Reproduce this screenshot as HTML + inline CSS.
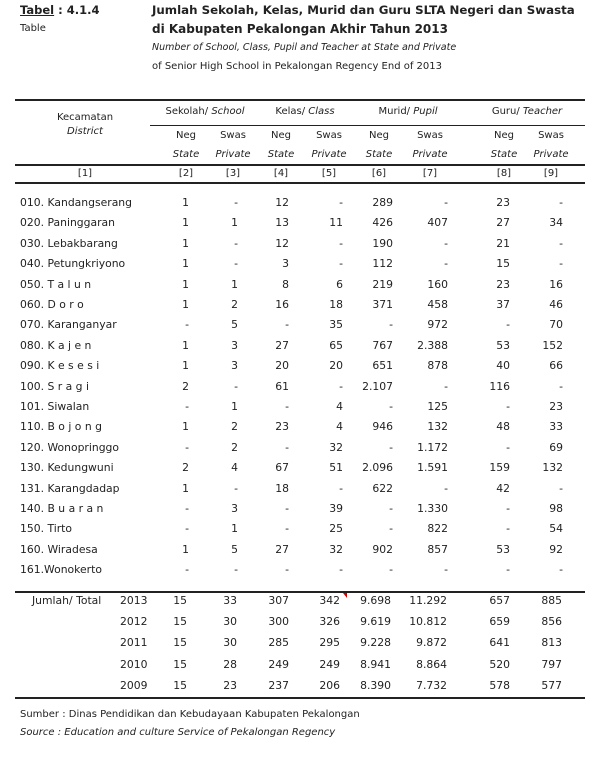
<!DOCTYPE html>
<html><head><meta charset="utf-8"><style>
body{margin:0;background:#fff;}
#p{position:relative;width:600px;height:760px;overflow:hidden;background:#fff;font-family:"DejaVu Sans","Liberation Sans",sans-serif;font-size:10px;color:#222;}
.t{position:absolute;white-space:nowrap;line-height:12px;}
.r{position:absolute;white-space:nowrap;line-height:12px;transform:translateX(-100%);}
.c{position:absolute;white-space:nowrap;line-height:12px;transform:translateX(-50%);}
.i{font-style:italic;}
.b{font-weight:bold;}
.h{position:absolute;background:#222;}
.lab{font-size:10.8px;}
</style></head><body><div id="p">
<div class="t b" style="left:20px;top:4px;font-size:11.5px"><u>Tabel</u> : 4.1.4</div>
<div class="t" style="left:20px;top:23px">Table</div>
<div class="t b" style="left:152px;top:4px;font-size:11.8px">Jumlah Sekolah, Kelas, Murid dan Guru SLTA Negeri dan Swasta</div>
<div class="t b" style="left:152px;top:23px;font-size:12px">di Kabupaten Pekalongan Akhir Tahun 2013</div>
<div class="t i" style="left:152px;top:42px;font-size:9.5px">Number of School, Class, Pupil and Teacher at State and Private</div>
<div class="t" style="left:152px;top:61px">of Senior High School in Pekalongan Regency End of 2013</div>

<div class="h" style="left:15px;top:99px;width:570px;height:2px"></div>
<div class="c" style="left:85px;top:112px">Kecamatan</div>
<div class="c i" style="left:85px;top:126px">District</div>
<div class="c" style="left:205px;top:106px">Sekolah/ <i>School</i></div>
<div class="c" style="left:305px;top:106px">Kelas/ <i>Class</i></div>
<div class="c" style="left:408px;top:106px">Murid/ <i>Pupil</i></div>
<div class="c" style="left:527px;top:106px">Guru/ <i>Teacher</i></div>
<div class="h" style="left:150px;top:125px;width:435px;height:1px"></div>
<div class="h" style="left:15px;top:164px;width:570px;height:2px"></div>
<div class="h" style="left:15px;top:182px;width:570px;height:2px"></div>
<div class="h" style="left:15px;top:591px;width:570px;height:2px"></div>
<div class="h" style="left:15px;top:697px;width:570px;height:2px"></div>
<div style="position:absolute;left:343px;top:593px;width:0;height:0;border-left:4px solid transparent;border-top:5px solid #c00"></div>

<div class="t" style="left:20px;top:709px">Sumber : Dinas Pendidikan dan Kebudayaan Kabupaten Pekalongan</div>
<div class="t i" style="left:20px;top:727px">Source : Education and culture Service of Pekalongan Regency</div>
</div>
<script>
var P=document.getElementById('p');
function add(cls,x,y,txt){var d=document.createElement('div');d.className=cls;d.style.left=x+'px';d.style.top=y+'px';d.textContent=txt;P.appendChild(d);}
var cx=[186,233,281,329,379,430,504,551];
for(var k=0;k<8;k++){add('c',cx[k],130,k%2?'Swas':'Neg');add('c i',cx[k],149,k%2?'Private':'State');add('c',cx[k],168,'['+(k+2)+']');}
add('c',85,168,'[1]');
var R=[189,238,289,343,393,448,510,563];
var rows=[
["010. Kandangserang","1","-","12","-","289","-","23","-"],
["020. Paninggaran","1","1","13","11","426","407","27","34"],
["030. Lebakbarang","1","-","12","-","190","-","21","-"],
["040. Petungkriyono","1","-","3","-","112","-","15","-"],
["050. T a l u n","1","1","8","6","219","160","23","16"],
["060. D o r o","1","2","16","18","371","458","37","46"],
["070. Karanganyar","-","5","-","35","-","972","-","70"],
["080. K a j e n","1","3","27","65","767","2.388","53","152"],
["090. K e s e s i","1","3","20","20","651","878","40","66"],
["100. S r a g i","2","-","61","-","2.107","-","116","-"],
["101. Siwalan","-","1","-","4","-","125","-","23"],
["110. B o j o n g","1","2","23","4","946","132","48","33"],
["120. Wonopringgo","-","2","-","32","-","1.172","-","69"],
["130. Kedungwuni","2","4","67","51","2.096","1.591","159","132"],
["131. Karangdadap","1","-","18","-","622","-","42","-"],
["140. B u a r a n","-","3","-","39","-","1.330","-","98"],
["150. Tirto","-","1","-","25","-","822","-","54"],
["160. Wiradesa","1","5","27","32","902","857","53","92"],
["161.Wonokerto","-","-","-","-","-","-","-","-"]];
for(var i=0;i<rows.length;i++){var y=197+i*20.4;add('t lab',20,y,rows[i][0]);for(var k=0;k<8;k++)add('r lab',R[k],y,rows[i][k+1]);}
var tot=[["2013","15","33","307","342","9.698","11.292","657","885"],
["2012","15","30","300","326","9.619","10.812","659","856"],
["2011","15","30","285","295","9.228","9.872","641","813"],
["2010","15","28","249","249","8.941","8.864","520","797"],
["2009","15","23","237","206","8.390","7.732","578","577"]];
var TR=[187,237,289,340,391,447,510,562];
add('t lab',32,595,'Jumlah/ Total');
for(var i=0;i<5;i++){var y=595+i*21.2;add('t lab',120,y,tot[i][0]);for(var k=0;k<8;k++)add('r lab',TR[k],y,tot[i][k+1]);}
</script>
</body></html>
